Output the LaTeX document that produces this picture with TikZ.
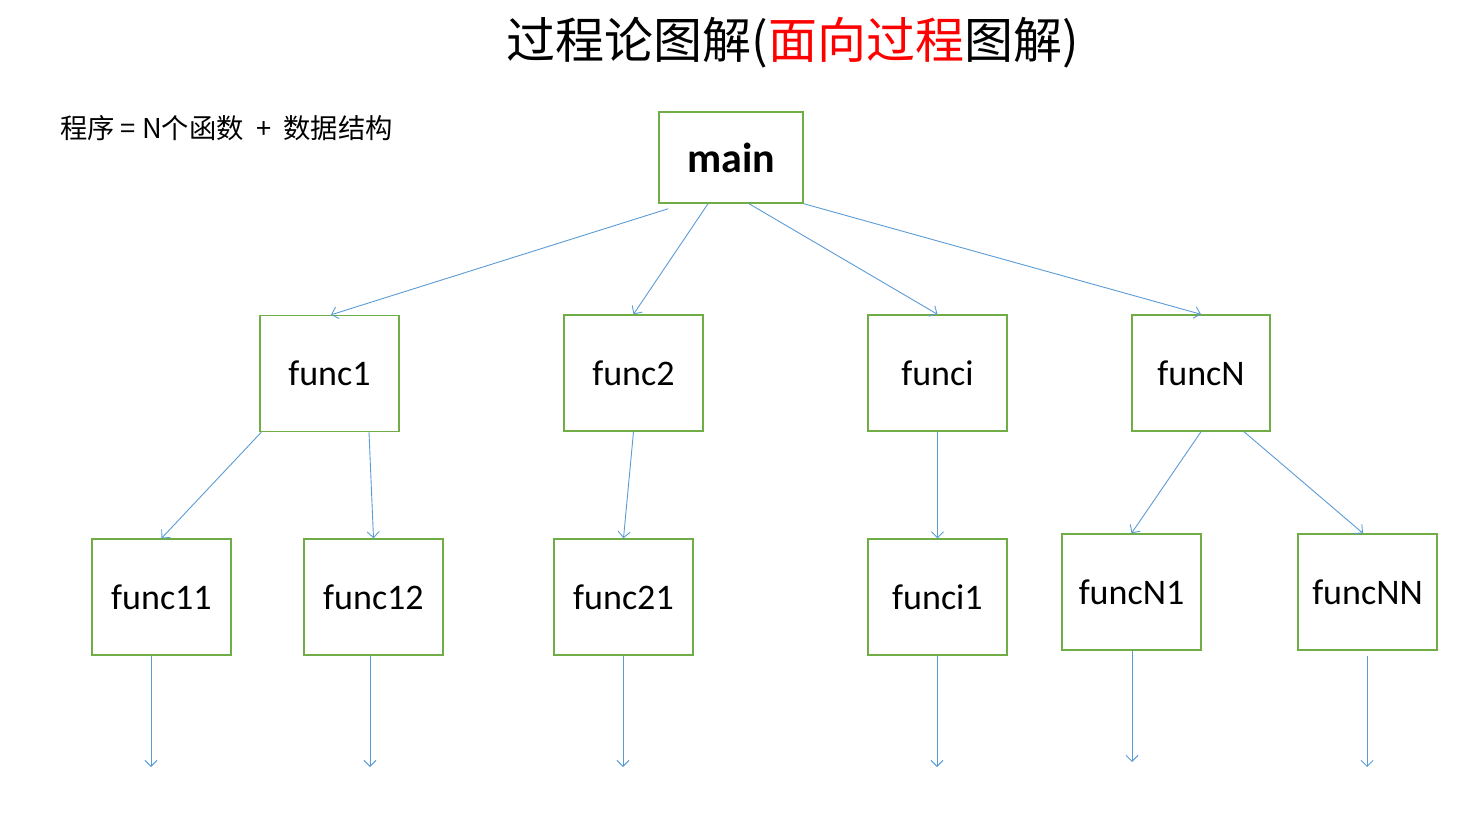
\documentclass[tikz,border=0pt]{standalone}
\usepackage{fontspec}
\setmainfont{Carlito}
\newfontfamily\cjk{Noto Sans CJK SC}
\usetikzlibrary{arrows.meta}
\definecolor{boxgreen}{HTML}{70AD47}
\definecolor{lineblue}{HTML}{5B9BD5}
\tikzset{
  fbox/.style={draw=boxgreen, line width=1.4pt, fill=white, inner sep=0pt,
    minimum width=139pt, minimum height=116pt, font=\fontsize{36}{40}\selectfont},
  conn/.style={draw=lineblue, line width=0.9pt, -{Straight Barb[length=6pt,width=12pt]}}
}
\begin{document}
\begin{tikzpicture}[x=1pt,y=-1pt]
\useasboundingbox (0,0) rectangle (1465,825);
\node (title) at (793,43) {\cjk\fontsize{49}{54}\selectfont 过程论图解(\textcolor{red}{面向过程}图解)};
\node[anchor=west, inner sep=0pt] (formula) at (60,128) {\cjk\fontsize{27.3}{30}\selectfont 程序 = N个函数 \ + \ 数据结构};
\node[fbox, minimum width=144pt, minimum height=91pt, font=\fontsize{42}{46}\selectfont\bfseries] (main) at (731,157.5) {main};
\node[fbox] (func1) at (329.5,373.5) {func1};
\node[fbox] (func2) at (633.5,373) {func2};
\node[fbox] (funci) at (937.5,373) {funci};
\node[fbox, minimum width=138pt] (funcN) at (1201,373) {funcN};
\node[fbox] (func11) at (161.5,597) {func11};
\node[fbox] (func12) at (373.5,597) {func12};
\node[fbox] (func21) at (623.5,597) {func21};
\node[fbox] (funci1) at (937.5,597) {funci1};
\node[fbox] (funcN1) at (1131.5,592) {funcN1};
\node[fbox] (funcNN) at (1367.5,592) {funcNN};
\coordinate (d11) at (151,767);
\coordinate (d12) at (370,767);
\coordinate (d21) at (623,767);
\coordinate (di1) at (937,767);
\coordinate (dN1) at (1132,762);
\coordinate (dNN) at (1367,767);
\draw[conn] ([xshift=10pt,yshift=-5pt]main.south west) -- ([xshift=1.5pt]func1.north);
\draw[conn] ([xshift=-23pt]main.south) -- (func2.north);
\draw[conn] ([xshift=18pt]main.south) -- (funci.north);
\draw[conn] (main.south east) -- (funcN.north);
\draw[conn] ([xshift=2pt]func1.south west) -- (func11.north);
\draw[conn] ([xshift=39.5pt]func1.south) -- (func12.north);
\draw[conn] (func2.south) -- (func21.north);
\draw[conn] (funci.south) -- (funci1.north);
\draw[conn] (funcN.south) -- (funcN1.north);
\draw[conn] ([xshift=43pt]funcN.south) -- ([xshift=-4.5pt]funcNN.north);
\draw[conn] (func11.south -| d11) -- (d11);
\draw[conn] (func12.south -| d12) -- (d12);
\draw[conn] (func21.south -| d21) -- (d21);
\draw[conn] (funci1.south -| di1) -- (di1);
\draw[conn] (funcN1.south -| dN1) -- (dN1);
\draw[conn] ([yshift=-5pt]funcNN.south -| dNN) -- (dNN);
\end{tikzpicture}
\end{document}
